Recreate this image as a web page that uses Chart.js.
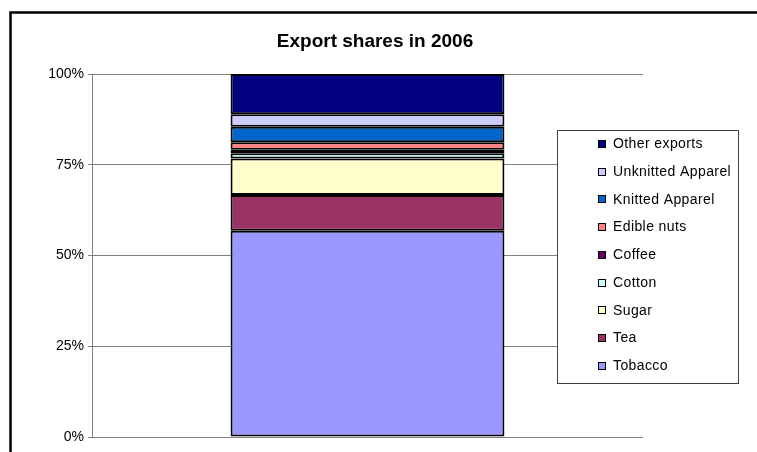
<!DOCTYPE html>
<html>
<head>
<meta charset="utf-8">
<script src="https://cdn.jsdelivr.net/npm/chart.js@4.4.1/dist/chart.umd.min.js"></script>
<style>
  body { margin: 0; background: #fff; }
  canvas { display: block; }
</style>
</head>
<body>
<canvas id="exportChart" width="757" height="452"></canvas>
<script>
// data, van onder naar boven gestapeld
const years = ['2006'];
const products = ['Tobacco', 'Tea', 'Sugar', 'Cotton', 'Coffee', 'Edible nuts', 'Knitted Apparel', 'Unknitted Apparel', 'Other exports'];
const shares = [56.8, 9.9, 10.0, 1.5, 0.9, 2.1, 4.3, 3.4, 11.1];
const colors = ['#9999FF', '#993366', '#FFFFCC', '#CCFFFF', '#660066', '#FF8080', '#0066CC', '#CCCCFF', '#000080'];
const yTicks = [0, 25, 50, 75, 100];
const title = 'Export shares in 2006';

const font = "'Liberation Sans', Arial, sans-serif";

// witte achtergrond, kader, titel en legenda
const decor = {
  id: 'decor',
  beforeDraw(chart) {
    const ctx = chart.ctx;
    ctx.save();
    ctx.fillStyle = '#fff';
    ctx.fillRect(0, 0, chart.width, chart.height);
    ctx.restore();
  },
  afterDraw(chart) {
    const ctx = chart.ctx;
    ctx.save();
    // kader
    ctx.strokeStyle = '#000';
    ctx.lineWidth = 2.5;
    ctx.strokeRect(10.5, 12.5, 800, 500);

    // titel
    ctx.fillStyle = '#000';
    ctx.font = 'bold 19px ' + font;
    ctx.textAlign = 'center';
    ctx.textBaseline = 'alphabetic';
    ctx.fillText(title, 375, 47);

    // legenda
    ctx.fillStyle = '#fff';
    ctx.fillRect(557, 130, 182, 254);
    ctx.lineWidth = 1;
    ctx.strokeStyle = '#404040';
    ctx.strokeRect(557.5, 130.5, 181, 253);
    ctx.font = '14px ' + font;
    ctx.textAlign = 'left';
    ctx.textBaseline = 'middle';
    if ('letterSpacing' in ctx) ctx.letterSpacing = '0.4px';
    const ds = chart.data.datasets.slice().reverse();
    ds.forEach((d, i) => {
      const y = 144 + i * 27.7;
      ctx.fillStyle = d.backgroundColor;
      ctx.fillRect(598, Math.round(y - 4), 8, 8);
      ctx.strokeStyle = '#000';
      ctx.strokeRect(598.5, Math.round(y - 4) + 0.5, 7, 7);
      ctx.fillStyle = '#000';
      ctx.fillText(d.label, 613, y + 0.5);
    });
    ctx.restore();
  }
};

const ctx = document.getElementById('exportChart').getContext('2d');
new Chart(ctx, {
  type: 'bar',
  data: {
    labels: years,
    datasets: products.map((p, i) => ({
      label: p,
      data: [shares[i]],
      backgroundColor: colors[i],
      borderColor: '#000',
      borderWidth: 2,
      borderSkipped: false,
      categoryPercentage: 0.497,
      barPercentage: 1
    }))
  },
  options: {
    responsive: false,
    animation: false,
    layout: { padding: { top: 74, right: 114, bottom: 15, left: 0 } },
    plugins: {
      legend: { display: false },
      title: { display: false },
      tooltip: { enabled: false }
    },
    scales: {
      x: { stacked: true, display: false },
      y: {
        stacked: true,
        min: 0,
        max: 100,
        afterFit: s => { s.width = 92; },
        afterBuildTicks: s => { s.ticks = yTicks.map(v => ({ value: v })); },
        ticks: {
          callback: v => v + '%',
          color: '#000',
          font: { family: font, size: 14 },
          padding: 4
        },
        grid: { color: '#808080', tickLength: 4, lineWidth: 1 },
        border: { color: '#808080' }
      }
    }
  },
  plugins: [decor]
});
</script>
</body>
</html>
